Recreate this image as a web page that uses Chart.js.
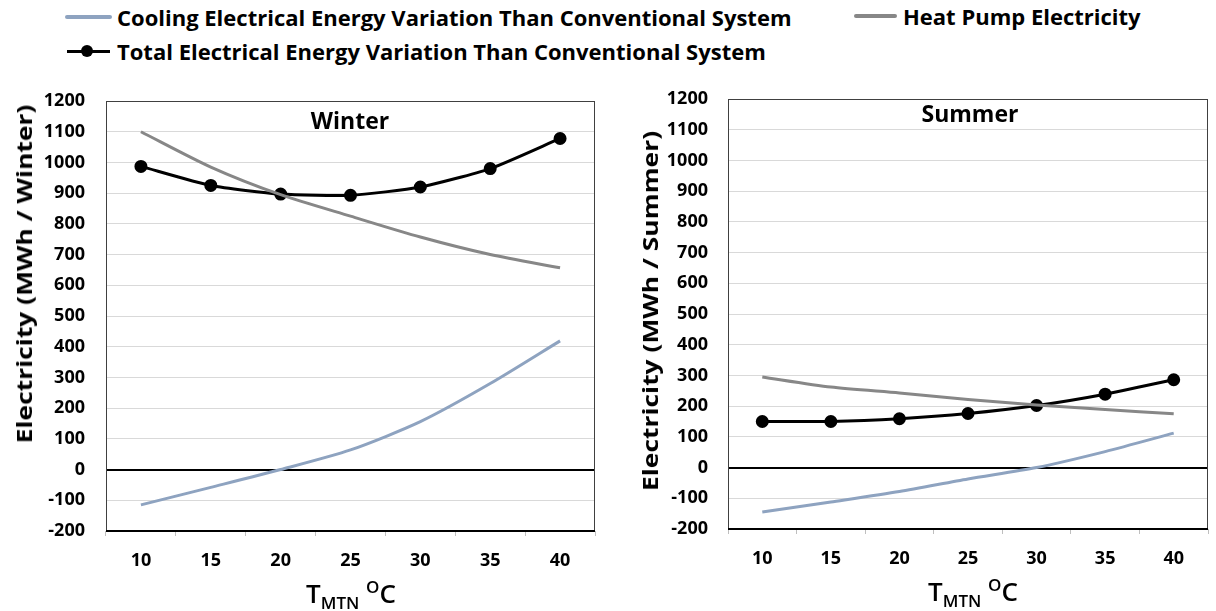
<!DOCTYPE html>
<html>
<head>
<meta charset="utf-8">
<script src="https://cdn.jsdelivr.net/npm/chart.js@4.4.1/dist/chart.umd.min.js"></script>
<style>
  body { margin: 0; background: #fff; font-family: "Open Sans", sans-serif; }
  #page { position: relative; width: 1216px; height: 611px; overflow: hidden; }
  .abs { position: absolute; }
  .legtext { font-weight: bold; font-size: 22px; color: #000; white-space: nowrap; line-height: 1; transform: translateY(-50%); }
  .ytitle { font-weight: bold; font-size: 22px; white-space: nowrap; transform: translate(-50%, -50%) rotate(-90deg) scaleX(1.2); line-height: 1; }
  .xtitle { font-size: 26px; font-weight: 600; white-space: nowrap; transform: translateX(-50%); line-height: 1; }
  .xtitle sub, .xtitle sup { font-size: 17px; }
  .ptitle { font-weight: bold; font-size: 23px; white-space: nowrap; transform: translate(-50%, -50%); line-height: 1; }
</style>
</head>
<body>
<div id="page">
  <div class="abs" style="left:65px;top:15px;width:47px;height:4px;background:#8ea3c0;border-radius:2px"></div>
  <div class="abs legtext" style="left:117px;top:17px">Cooling Electrical Energy Variation Than Conventional System</div>
  <div class="abs" style="left:854px;top:14px;width:43px;height:4px;background:#878787;border-radius:2px"></div>
  <div class="abs legtext" style="left:903px;top:16px">Heat Pump Electricity</div>
  <div class="abs" style="left:67px;top:50px;width:43px;height:3px;background:#000"></div>
  <div class="abs" style="left:81px;top:45px;width:12px;height:12px;background:#000;border-radius:50%"></div>
  <div class="abs legtext" style="left:117px;top:51px">Total Electrical Energy Variation Than Conventional System</div>

  <div class="abs" style="left:0;top:80px"><canvas id="winter" width="605" height="531"></canvas></div>
  <div class="abs" style="left:610px;top:80px"><canvas id="summer" width="606" height="531"></canvas></div>

  <div class="abs ptitle" style="left:350px;top:120px">Winter</div>
  <div class="abs ptitle" style="left:970px;top:113px">Summer</div>
  <div class="abs ytitle" style="left:23px;top:274px">Electricity (MWh / Winter)</div>
  <div class="abs ytitle" style="left:649px;top:311px">Electricity (MWh / Summer)</div>
  <div class="abs xtitle" style="left:351px;top:578px">T<sub>MTN</sub> <sup>O</sup>C</div>
  <div class="abs xtitle" style="left:973px;top:576px">T<sub>MTN</sub> <sup>O</sup>C</div>
</div>
<script>
// temperatures on the x axis
const temps = ['10', '15', '20', '25', '30', '35', '40'];

// winter series (MWh / Winter)
const winterCooling = [-115, -58, 0, 64, 156, 280, 419];
const winterHeatPump = [1100, 985, 895, 825, 757, 700, 657];
const winterTotal = [987, 925, 897, 893, 920, 980, 1078];

// summer series (MWh / Summer)
const summerCooling = [-145, -112, -78, -37, 0, 52, 112];
const summerHeatPump = [295, 262, 243, 222, 204, 189, 175];
const summerTotal = [150, 150, 159, 176, 202, 239, 286];

// y axis range
const yMin = -200;
const yMax = 1200;
const yStep = 100;

const tickFont = { family: 'Open Sans', size: 18, weight: 'bold' };

// frame round the plot area
const boxPlugin = {
    id: 'box',
    afterDraw(chart) {
        const a = chart.chartArea;
        const ctx = chart.ctx;
        ctx.save();
        ctx.strokeStyle = '#404040';
        ctx.lineWidth = 1;
        ctx.strokeRect(a.left + 0.5, a.top + 0.5, a.right - a.left - 1, a.bottom - a.top);
        ctx.strokeStyle = '#000';
        ctx.lineWidth = 2;
        ctx.beginPath();
        ctx.moveTo(a.left, a.bottom);
        ctx.lineTo(a.right, a.bottom);
        ctx.stroke();
        ctx.restore();
    }
};

function makeChart(id, cooling, heatPump, total, opts) {
    const ctx = document.getElementById(id).getContext('2d');
    return new Chart(ctx, {
        type: 'line',
        data: {
            labels: temps,
            datasets: [
                {
                    label: 'Cooling Electrical Energy Variation Than Conventional System',
                    data: cooling,
                    borderColor: '#8ea3c0',
                    borderWidth: 3,
                    pointRadius: 0,
                    tension: 0.25
                },
                {
                    label: 'Heat Pump Electricity',
                    data: heatPump,
                    borderColor: '#878787',
                    borderWidth: 3,
                    pointRadius: 0,
                    tension: 0.25
                },
                {
                    label: 'Total Electrical Energy Variation Than Conventional System',
                    data: total,
                    borderColor: '#000',
                    backgroundColor: '#000',
                    borderWidth: 3,
                    pointRadius: 5,
                    pointBackgroundColor: '#000',
                    tension: 0.2
                }
            ]
        },
        options: {
            responsive: false,
            animation: false,
            layout: { padding: { left: 0, right: opts.padRight, top: opts.padTop, bottom: 0 } },
            plugins: {
                legend: { display: false },
                tooltip: { enabled: false }
            },
            scales: {
                x: {
                    offset: true,
                    grid: {
                        offset: true,
                        drawOnChartArea: false,
                        drawTicks: true,
                        tickLength: 5,
                        color: '#bfbfbf'
                    },
                    border: { display: false },
                    ticks: { font: tickFont, color: '#000', padding: 14, maxRotation: 0 },
                    afterFit(scale) { scale.height = opts.xHeight; }
                },
                y: {
                    min: yMin,
                    max: yMax,
                    grid: {
                        drawTicks: true,
                        tickLength: opts.tickGap,
                        tickColor: 'rgba(0,0,0,0)',
                        color: c => c.tick && c.tick.value === 0 ? '#000' : '#d9d9d9',
                        lineWidth: c => c.tick && c.tick.value === 0 ? 2 : 1
                    },
                    border: { display: false },
                    ticks: {
                        stepSize: yStep,
                        font: tickFont,
                        color: '#000',
                        padding: 0,
                        callback: v => String(v)
                    },
                    afterFit(scale) { scale.width = opts.yWidth; }
                }
            }
        },
        plugins: [boxPlugin]
    });
}

makeChart('winter', winterCooling, winterHeatPump, winterTotal,
    { padRight: 10, padTop: 21, xHeight: 80, yWidth: 106, tickGap: 21 });
makeChart('summer', summerCooling, summerHeatPump, summerTotal,
    { padRight: 2, padTop: 19, xHeight: 82, yWidth: 118, tickGap: 20 });
</script>
</body>
</html>
